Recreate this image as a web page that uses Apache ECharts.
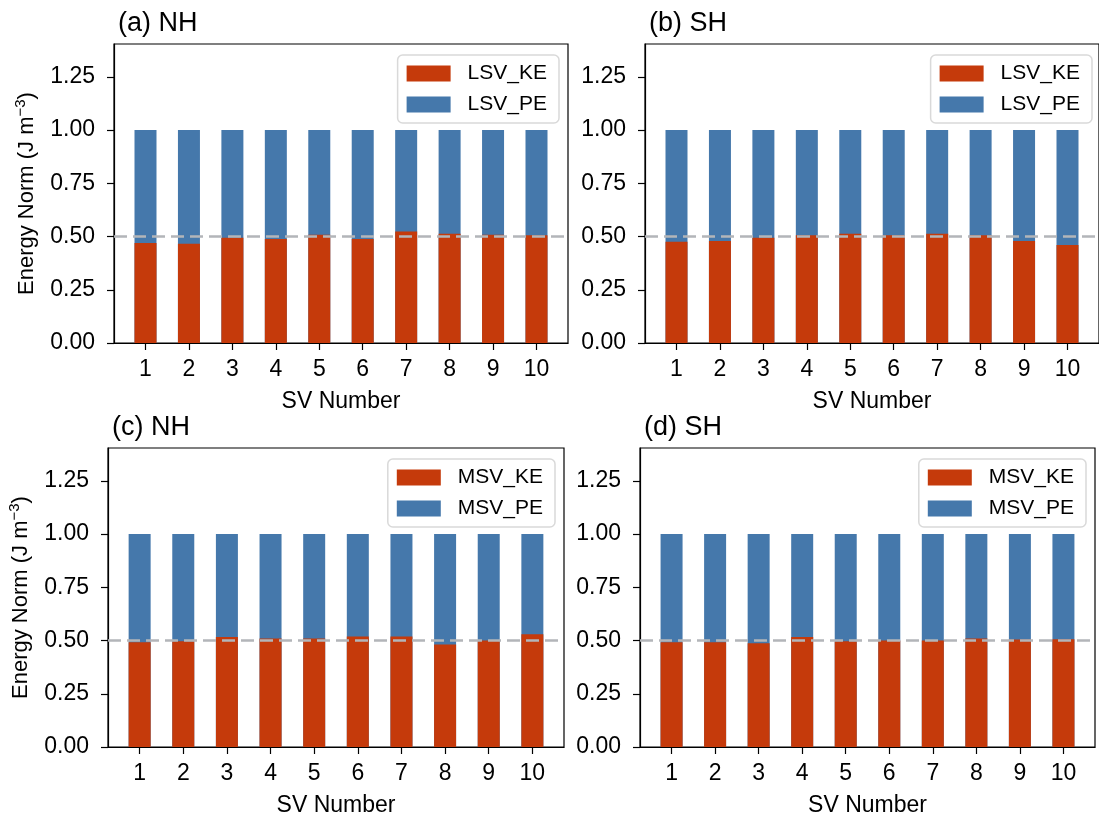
<!DOCTYPE html>
<html>
<head>
<meta charset="utf-8">
<script src="https://cdn.jsdelivr.net/npm/echarts@6/dist/echarts.min.js"></script>
<style>
html,body{margin:0;padding:0;background:#fff;}
#chart{width:1099px;height:820px;}
</style>
</head>
<body>
<div id="chart"></div>
<script>
// ---- data ----
const svNumbers = [1, 2, 3, 4, 5, 6, 7, 8, 9, 10];
const yTicks = [0, 0.25, 0.5, 0.75, 1.0, 1.25];

const lsvKE_NH = [0.469, 0.466, 0.494, 0.488, 0.508, 0.488, 0.523, 0.513, 0.508, 0.506];
const lsvPE_NH = [0.531, 0.534, 0.506, 0.512, 0.492, 0.512, 0.477, 0.487, 0.492, 0.494];
const lsvKE_SH = [0.476, 0.479, 0.494, 0.506, 0.513, 0.506, 0.513, 0.506, 0.479, 0.460];
const lsvPE_SH = [0.524, 0.521, 0.506, 0.494, 0.487, 0.494, 0.487, 0.494, 0.521, 0.540];
const msvKE_NH = [0.492, 0.497, 0.516, 0.509, 0.509, 0.519, 0.519, 0.481, 0.500, 0.530];
const msvPE_NH = [0.508, 0.503, 0.484, 0.491, 0.491, 0.481, 0.481, 0.519, 0.500, 0.470];
const msvKE_SH = [0.492, 0.492, 0.487, 0.516, 0.497, 0.500, 0.500, 0.509, 0.505, 0.506];
const msvPE_SH = [0.508, 0.508, 0.513, 0.484, 0.503, 0.500, 0.500, 0.491, 0.495, 0.494];

const panelTitles = ['(a) NH', '(b) SH', '(c) NH', '(d) SH'];
const keNames = ['LSV_KE', 'LSV_KE', 'MSV_KE', 'MSV_KE'];
const peNames = ['LSV_PE', 'LSV_PE', 'MSV_PE', 'MSV_PE'];
const keData = [lsvKE_NH, lsvKE_SH, msvKE_NH, msvKE_SH];
const peData = [lsvPE_NH, lsvPE_SH, msvPE_NH, msvPE_SH];
const referenceLevel = 0.5;

// ---- layout / style ----
const FONT = 'Liberation Sans, Arial, sans-serif';
const RED = '#c53a0b';
const BLUE = '#4578ab';
const grids = [
  {left: 114, top: 44, width: 454, height: 299},
  {left: 645, top: 44, width: 456, height: 299},
  {left: 108, top: 448, width: 456, height: 299},
  {left: 640, top: 448, width: 455, height: 299}
];
const X_MIN = 0.275, X_MAX = 10.725;

const chart = echarts.init(document.getElementById('chart'), null, {renderer: 'canvas'});

const option = {
  backgroundColor: '#fff',
  animation: false,
  textStyle: {fontFamily: FONT},
  title: [], grid: [], xAxis: [], yAxis: [], legend: [], series: []
};

grids.forEach((g, i) => {
  option.grid.push({
    left: g.left, top: g.top, width: g.width, height: g.height,
    show: true, borderColor: '#000', borderWidth: 1.2, containLabel: false
  });
  option.title.push({
    text: panelTitles[i], left: g.left - 1, top: g.top - 39,
    textStyle: {fontFamily: FONT, fontSize: 27, fontWeight: 'normal', color: '#000'}
  });
  option.xAxis.push({
    type: 'value', gridIndex: i, min: X_MIN, max: X_MAX,
    name: 'SV Number', nameLocation: 'middle', nameGap: 47,
    nameTextStyle: {fontFamily: FONT, fontSize: 23, color: '#000'},
    axisLine: {show: true, onZero: false, lineStyle: {color: '#000', width: 1.2}},
    axisTick: {show: true, length: 7, lineStyle: {color: '#000', width: 1.2}, customValues: svNumbers},
    axisLabel: {show: true, margin: 15, fontSize: 23, color: '#000', fontFamily: FONT, customValues: svNumbers,
      formatter: v => String(v)},
    splitLine: {show: false}
  });
  option.yAxis.push({
    type: 'value', gridIndex: i, min: 0, max: 1.404,
    name: (i % 2 === 0) ? 'Energy Norm (J m{sup|\u22123})' : '',
    nameLocation: 'middle', nameGap: 74, nameRotate: 90,
    nameTextStyle: {fontFamily: FONT, fontSize: 22, color: '#000',
      rich: {sup: {fontFamily: FONT, fontSize: 15, color: '#000', padding: [0, 0, 12, 0]}}},
    axisLine: {show: true, lineStyle: {color: '#000', width: 1.2}},
    axisTick: {show: true, length: 7, lineStyle: {color: '#000', width: 1.2}, customValues: yTicks},
    axisLabel: {show: true, margin: 19, fontSize: 23, color: '#000', fontFamily: FONT, customValues: yTicks,
      formatter: v => v.toFixed(2)},
    splitLine: {show: false}
  });
  option.legend.push({
    orient: 'vertical',
    right: 1099 - (g.left + g.width) + 9,
    top: g.top + 11,
    data: [keNames[i], peNames[i]],
    itemWidth: 44, itemHeight: 16, itemGap: 10,
    icon: 'rect',
    padding: [8, 12, 8, 9],
    borderColor: '#d9d9d9', borderWidth: 1.5, borderRadius: 5,
    backgroundColor: 'rgba(255,255,255,0.8)',
    textStyle: {fontFamily: FONT, fontSize: 21, color: '#000', padding: [0, 0, 0, 12]},
    selectedMode: false
  });
  // PE sits on top of KE: draw the full stack height in blue, then KE in red over it
  option.series.push({
    type: 'bar', name: peNames[i], xAxisIndex: i, yAxisIndex: i,
    barWidth: 22, barGap: '-100%', itemStyle: {color: BLUE}, z: 2,
    data: svNumbers.map((x, k) => [x, keData[i][k] + peData[i][k]])
  });
  option.series.push({
    type: 'bar', name: keNames[i], xAxisIndex: i, yAxisIndex: i,
    barWidth: 22, barGap: '-100%', itemStyle: {color: RED}, z: 3,
    data: svNumbers.map((x, k) => [x, keData[i][k]]),
    markLine: {
      silent: true, symbol: 'none', animation: false, z: 5,
      label: {show: false},
      lineStyle: {color: '#b3b5b9', type: [13, 6], width: 2.5, opacity: 1},
      data: [{yAxis: referenceLevel}]
    }
  });
});

chart.setOption(option);
</script>
</body>
</html>
